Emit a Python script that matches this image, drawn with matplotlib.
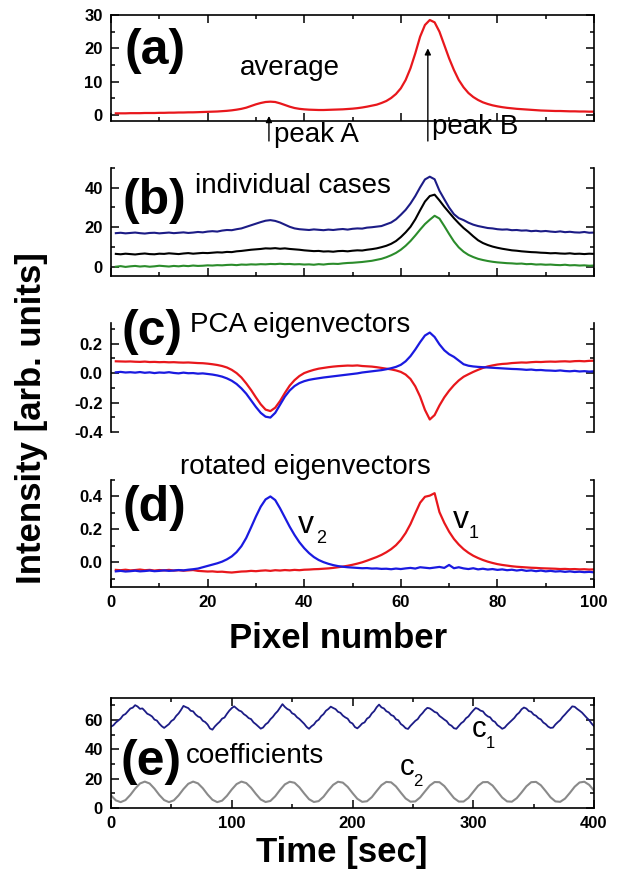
import matplotlib
matplotlib.use('Agg')
import matplotlib.pyplot as plt
from matplotlib.ticker import MultipleLocator, FormatStrFormatter, NullFormatter
import numpy as np

plt.rcParams['font.family'] = 'Liberation Sans'
plt.rcParams['font.weight'] = 'bold'
plt.rcParams['axes.unicode_minus'] = False

# ---- data ----
pixel = np.arange(1, 101)

# (a) average spectrum
average = [0.5, 0.5, 0.5, 0.55, 0.55, 0.55, 0.6, 0.6, 0.6, 0.65,
           0.65, 0.7, 0.7, 0.75, 0.75, 0.8, 0.8, 0.85, 0.9, 0.95,
           1.0, 1.05, 1.15, 1.25, 1.4, 1.6, 1.85, 2.2, 2.7, 3.2,
           3.6, 3.9, 4.0, 3.9, 3.5, 3.0, 2.5, 2.1, 1.85, 1.7,
           1.6, 1.55, 1.5, 1.5, 1.55, 1.6, 1.65, 1.7, 1.8, 1.9,
           2.05, 2.25, 2.5, 2.8, 3.1, 3.6, 4.2, 5.1, 6.3, 8.0,
           10.5, 14.0, 18.5, 23.5, 27.0, 28.5, 27.8, 25.0, 21.0, 17.0,
           13.5, 10.5, 8.3, 6.6, 5.4, 4.5, 3.8, 3.3, 2.9, 2.6,
           2.35, 2.15, 2.0, 1.85, 1.75, 1.65, 1.55, 1.45, 1.35, 1.3,
           1.25, 1.2, 1.2, 1.15, 1.1, 1.1, 1.05, 1.05, 1.0, 1.0]

# (b) individual cases
case_blue = [17.0, 17.2, 16.9, 17.1, 17.3, 17.0, 16.8, 17.1, 17.2, 16.9,
             17.1, 17.3, 17.0, 17.2, 17.4, 17.1, 17.3, 17.6, 17.4, 17.8,
             18.0, 17.8, 18.3, 18.6, 18.5, 19.0, 19.4, 20.2, 21.0, 21.8,
             22.6, 23.3, 23.6, 23.2, 22.4, 21.3, 20.2, 19.4, 19.0, 18.8,
             18.6, 18.9, 18.7, 18.5, 18.8, 18.6, 18.9, 19.1, 18.8, 19.2,
             19.4, 19.3, 19.8, 20.0, 20.3, 20.6, 21.5, 22.4, 24.0, 26.3,
             28.8, 32.0, 35.8, 40.2, 44.2, 45.6, 44.3, 38.5, 34.2, 30.0,
             26.6, 24.6, 23.6, 22.3, 21.3, 20.6, 20.1, 19.6, 19.4, 19.0,
             18.8, 18.9, 18.5, 18.6, 18.3, 18.4, 18.0, 18.2, 17.9, 18.1,
             17.8, 17.6, 17.9, 17.5, 17.7, 17.4, 17.3, 17.6, 17.2, 17.3]
case_black = [6.5, 6.3, 6.6, 6.4, 6.2, 6.5, 6.7, 6.4, 6.3, 6.6,
              6.5, 6.8, 6.6, 6.4, 6.7, 6.9, 6.6, 6.8, 7.0, 6.9,
              7.1, 7.3, 7.2, 7.5, 7.4, 7.8, 8.0, 8.3, 8.6, 8.8,
              9.0, 9.3, 9.2, 9.4, 9.1, 9.3, 9.0, 8.8, 8.6, 8.3,
              8.1, 7.9, 8.0, 7.7, 7.8, 7.6, 7.9, 8.0, 7.8, 8.1,
              8.3, 8.2, 8.6, 8.9, 9.3, 9.9, 10.6, 11.6, 13.0, 15.0,
              17.4, 20.2, 24.0, 28.6, 33.0, 35.8, 36.5, 33.6, 30.4, 27.5,
              24.6, 22.0, 19.6, 17.6, 15.4, 13.4, 12.0, 11.0, 10.2, 9.6,
              9.1, 8.7, 8.3, 8.1, 7.8, 7.6, 7.4, 7.3, 7.1, 7.0,
              6.8, 6.9, 6.7, 6.6, 6.8, 6.5, 6.6, 6.4, 6.6, 6.5]
case_green = [0.0, 0.3, -0.1, 0.2, 0.4, 0.1, 0.3, 0.0, 0.2, 0.5,
              0.3, 0.1, 0.4, 0.2, 0.5, 0.3, 0.6, 0.4, 0.5, 0.7,
              0.6, 0.8, 0.7, 0.9, 1.0, 0.8, 1.1, 1.0, 1.2, 1.1,
              1.3, 1.2, 1.4, 1.3, 1.5, 1.3, 1.4, 1.2, 1.3, 1.1,
              1.2, 1.0, 1.3, 1.1, 1.4, 1.5, 1.4, 1.7, 1.9, 2.0,
              2.2, 2.4, 2.7, 3.0, 3.5, 4.0, 4.8, 5.8, 7.0, 8.6,
              10.6, 13.0, 15.8, 18.8, 21.6, 23.8, 25.8, 24.4, 20.6, 16.6,
              12.8, 9.8, 7.6, 6.0, 4.9, 4.0, 3.4, 2.9, 2.5, 2.2,
              2.0, 1.8, 1.7, 1.5, 1.6, 1.3, 1.4, 1.1, 1.2, 1.0,
              1.1, 0.9, 0.8, 1.0, 0.7, 0.8, 0.6, 0.7, 0.5, 0.6]

# (c) PCA eigenvectors
pca_red = [0.080, 0.079, 0.078, 0.079, 0.077, 0.076, 0.078, 0.075, 0.076, 0.074,
           0.075, 0.073, 0.074, 0.072, 0.071, 0.072, 0.070, 0.068, 0.067, 0.064,
           0.060, 0.055, 0.048, 0.038, 0.022, 0.000, -0.030, -0.070, -0.115, -0.165,
           -0.212, -0.248, -0.258, -0.235, -0.190, -0.135, -0.085, -0.048, -0.020, 0.000,
           0.012, 0.022, 0.030, 0.035, 0.040, 0.044, 0.047, 0.049, 0.051, 0.050,
           0.052, 0.048, 0.046, 0.044, 0.040, 0.035, 0.030, 0.025, 0.018, 0.008,
           -0.010, -0.040, -0.090, -0.160, -0.250, -0.315, -0.285, -0.220, -0.165, -0.120,
           -0.082, -0.050, -0.025, -0.008, 0.008, 0.022, 0.035, 0.045, 0.052, 0.058,
           0.062, 0.064, 0.068, 0.070, 0.072, 0.071, 0.074, 0.076, 0.075, 0.077,
           0.078, 0.077, 0.079, 0.080, 0.078, 0.081, 0.082, 0.080, 0.083, 0.084]
pca_blue = [0.005, 0.008, 0.004, 0.006, 0.003, 0.007, 0.002, 0.005, 0.000, 0.004,
            0.002, 0.006, 0.001, -0.002, 0.003, -0.001, 0.000, -0.004, -0.002, -0.006,
            -0.010, -0.016, -0.024, -0.036, -0.052, -0.074, -0.104, -0.140, -0.185, -0.230,
            -0.270, -0.296, -0.302, -0.270, -0.215, -0.160, -0.118, -0.088, -0.068, -0.055,
            -0.046, -0.040, -0.035, -0.030, -0.026, -0.022, -0.018, -0.014, -0.010, -0.006,
            -0.002, 0.004, 0.008, 0.012, 0.016, 0.020, 0.026, 0.033, 0.042, 0.056,
            0.080, 0.115, 0.160, 0.210, 0.255, 0.275, 0.245, 0.195, 0.155, 0.128,
            0.110, 0.085, 0.060, 0.050, 0.045, 0.042, 0.040, 0.038, 0.036, 0.034,
            0.032, 0.030, 0.028, 0.027, 0.025, 0.022, 0.024, 0.020, 0.021, 0.018,
            0.017, 0.015, 0.018, 0.014, 0.012, 0.015, 0.011, 0.013, 0.010, 0.012]

# (d) rotated eigenvectors
rot_v1 = [-0.046, -0.048, -0.045, -0.049, -0.047, -0.044, -0.048, -0.046, -0.050, -0.047,
          -0.049, -0.046, -0.050, -0.048, -0.051, -0.049, -0.047, -0.052, -0.054, -0.056,
          -0.055, -0.058, -0.057, -0.060, -0.062, -0.059, -0.056, -0.055, -0.052, -0.054,
          -0.051, -0.049, -0.052, -0.048, -0.050, -0.047, -0.049, -0.046, -0.048, -0.045,
          -0.044, -0.042, -0.041, -0.039, -0.037, -0.034, -0.030, -0.026, -0.021, -0.015,
          -0.008, 0.000, 0.010, 0.021, 0.032, 0.045, 0.061, 0.080, 0.104, 0.136,
          0.178, 0.232, 0.298, 0.362, 0.398, 0.405, 0.420, 0.305, 0.240, 0.186,
          0.142, 0.108, 0.080, 0.058, 0.040, 0.026, 0.014, 0.004, -0.004, -0.011,
          -0.016, -0.020, -0.024, -0.027, -0.029, -0.031, -0.033, -0.034, -0.036, -0.037,
          -0.038, -0.039, -0.041, -0.040, -0.042, -0.041, -0.043, -0.042, -0.044, -0.043]
rot_v2 = [-0.055, -0.052, -0.056, -0.054, -0.051, -0.055, -0.053, -0.050, -0.054, -0.052,
          -0.049, -0.052, -0.050, -0.047, -0.049, -0.045, -0.042, -0.038, -0.030, -0.022,
          -0.014, -0.006, 0.004, 0.018, 0.036, 0.062, 0.098, 0.148, 0.212, 0.278,
          0.338, 0.382, 0.400, 0.378, 0.328, 0.272, 0.216, 0.166, 0.122, 0.086,
          0.056, 0.032, 0.014, 0.001, -0.009, -0.017, -0.023, -0.027, -0.030, -0.032,
          -0.034, -0.036, -0.035, -0.038, -0.037, -0.040, -0.039, -0.042, -0.038, -0.041,
          -0.037, -0.034, -0.038, -0.030, -0.033, -0.036, -0.032, -0.028, -0.034, -0.016,
          -0.036, -0.030, -0.037, -0.041, -0.036, -0.043, -0.039, -0.044, -0.041, -0.046,
          -0.043, -0.048, -0.045, -0.050, -0.046, -0.052, -0.049, -0.054, -0.050, -0.055,
          -0.052, -0.056, -0.054, -0.058, -0.055, -0.059, -0.057, -0.060, -0.058, -0.061]

# (e) coefficients vs time
time_c1 = np.arange(0, 401, 2)
coef_c1 = [55.5, 56.4, 58.3, 59.6, 61.0, 63.2, 64.1, 66.0, 67.8, 68.4,
           70.1, 69.2, 67.6, 67.9, 66.2, 64.3, 63.5, 62.4, 60.3, 59.6,
           57.5, 55.8, 54.6, 55.9, 57.2, 59.3, 60.4, 62.8, 64.5, 66.9,
           69.6, 68.8, 68.1, 66.3, 65.9, 63.8, 62.4, 61.7, 59.5, 58.6,
           56.9, 54.2, 53.4, 55.6, 57.3, 58.8, 60.9, 61.7, 64.2, 66.4,
           68.1, 69.3, 67.9, 66.5, 65.8, 64.0, 62.9, 61.3, 60.6, 58.4,
           57.1, 55.6, 54.1, 54.9, 57.0, 58.2, 60.5, 62.1, 64.3, 66.0,
           68.4, 70.8, 68.9, 67.5, 66.7, 64.6, 63.8, 61.9, 60.7, 59.0,
           57.4, 55.3, 54.0, 55.7, 56.9, 59.1, 60.2, 62.6, 64.0, 66.3,
           67.5, 69.1, 68.2, 67.4, 65.6, 64.9, 63.0, 61.8, 60.9, 58.5,
           57.6, 55.2, 54.3, 55.8, 57.6, 58.4, 60.9, 62.0, 64.5, 66.1,
           68.7, 70.5, 68.6, 67.9, 66.0, 65.2, 63.4, 62.7, 60.5, 59.8,
           57.3, 56.1, 54.4, 53.9, 56.0, 57.7, 59.4, 60.6, 63.0, 64.7,
           66.8, 68.3, 67.9, 66.8, 65.5, 64.9, 62.8, 61.6, 60.3, 59.2,
           57.0, 56.1, 54.4, 54.0, 55.9, 57.8, 59.0, 61.2, 62.4, 64.6,
           66.5, 68.2, 67.6, 66.4, 65.9, 63.8, 62.5, 61.8, 59.6, 58.7,
           56.5, 55.4, 54.0, 54.8, 56.7, 58.3, 60.0, 61.4, 63.6, 65.0,
           67.3, 68.5, 67.8, 66.1, 65.6, 63.7, 62.9, 61.2, 60.4, 58.3,
           57.2, 55.5, 54.6, 54.8, 56.9, 58.5, 59.9, 62.1, 63.8, 65.7,
           67.4, 69.3, 69.0, 67.6, 66.4, 65.1, 63.3, 61.5, 59.9, 57.6,
           55.8]
time_c2 = np.arange(0, 401, 4)
coef_c2 = [8.6, 5.2, 4.0, 5.4, 8.9, 13.2, 16.7, 18.0, 16.7, 13.2,
           8.9, 5.4, 4.0, 5.2, 8.6, 12.9, 16.5, 18.0, 16.8, 13.5,
           9.2, 5.6, 4.0, 5.0, 8.3, 12.6, 16.3, 18.0, 17.0, 13.8,
           9.6, 5.8, 4.1, 4.8, 8.0, 12.3, 16.1, 17.9, 17.2, 14.1,
           9.9, 6.0, 4.1, 4.7, 7.7, 12.0, 15.8, 17.9, 17.3, 14.4,
           10.2, 6.3, 4.2, 4.6, 7.4, 11.6, 15.6, 17.8, 17.5, 14.7,
           10.5, 6.5, 4.3, 4.5, 7.2, 11.3, 15.3, 17.7, 17.6, 15.0,
           10.9, 6.8, 4.4, 4.4, 6.9, 11.0, 15.1, 17.6, 17.7, 15.3,
           11.2, 7.1, 4.5, 4.3, 6.7, 10.6, 14.8, 17.6, 17.8, 15.5,
           11.5, 7.3, 4.5, 4.2, 6.4, 10.3, 14.5, 17.4, 17.9, 15.8,
           11.9]

RED = '#e8171c'
BLUE = '#1a1ae0'
NAVY = '#1c1c86'
GREEN = '#2b8c2b'
GRAY = '#8a8a8a'

W, H = 622, 873
fig = plt.figure(figsize=(W / 100, H / 100), dpi=100)


def fx(px):
    return px / W


def fy(py):
    return 1 - py / H


def make_axes(top, bottom):
    return fig.add_axes([fx(111), fy(bottom), fx(594) - fx(111), fy(top) - fy(bottom)])


def style(ax, ymajor, yminor, xmajor=20, xminor=10, xlabels=False, top=True, bottom=True):
    ax.xaxis.set_major_locator(MultipleLocator(xmajor))
    ax.xaxis.set_minor_locator(MultipleLocator(xminor))
    ax.yaxis.set_major_locator(MultipleLocator(ymajor))
    ax.yaxis.set_minor_locator(MultipleLocator(yminor))
    ax.tick_params(which='both', direction='in', top=top, bottom=bottom, right=True,
                   width=1.1, labelsize=12)
    ax.tick_params(which='major', length=5.5, pad=6)
    ax.tick_params(which='minor', length=3)
    if not xlabels:
        ax.xaxis.set_major_formatter(NullFormatter())
    for s in ax.spines.values():
        s.set_linewidth(1.2)
    ax.spines['top'].set_visible(top)
    ax.spines['bottom'].set_visible(bottom)


def panel_text(x, y, s, size=20, **kw):
    fig.text(fx(x), fy(y), s, fontsize=size, fontweight='normal', **kw)


# (a)
ax_a = make_axes(15, 121)
ax_a.plot(pixel, average, color=RED, lw=1.6)
ax_a.set_xlim(0, 100)
ax_a.set_ylim(-1.8, 30)
style(ax_a, 10, 5)
ax_a.annotate('', xy=(32.7, -0.3), xytext=(32.7, -7.8), annotation_clip=False,
              arrowprops=dict(arrowstyle='-|>', color='black', lw=1.0, mutation_scale=9,
                              shrinkA=0, shrinkB=0))
ax_a.annotate('', xy=(65.6, 20.0), xytext=(65.6, -7.8), annotation_clip=False,
              arrowprops=dict(arrowstyle='-|>', color='black', lw=1.0, mutation_scale=9,
                              shrinkA=0, shrinkB=0))

# (b)
ax_b = make_axes(168, 276)
ax_b.plot(pixel, case_blue, color=NAVY, lw=1.5)
ax_b.plot(pixel, case_black, color='black', lw=1.5)
ax_b.plot(pixel, case_green, color=GREEN, lw=1.5)
ax_b.set_xlim(0, 100)
ax_b.set_ylim(-4.7, 50)
style(ax_b, 20, 10, top=False)

# (c)
ax_c = make_axes(323, 432)
ax_c.plot(pixel, pca_red, color=RED, lw=1.6)
ax_c.plot(pixel, pca_blue, color=BLUE, lw=1.6)
ax_c.set_xlim(0, 100)
ax_c.set_ylim(-0.4, 0.34)
style(ax_c, 0.2, 0.1, top=False, bottom=False)
ax_c.yaxis.set_major_formatter(FormatStrFormatter('%.1f'))

# (d)
ax_d = make_axes(480, 587)
ax_d.plot(pixel, rot_v1, color=RED, lw=1.6)
ax_d.plot(pixel, rot_v2, color=BLUE, lw=1.6)
ax_d.set_xlim(0, 100)
ax_d.set_ylim(-0.15, 0.5)
style(ax_d, 0.2, 0.1, xlabels=True, top=False)
ax_d.yaxis.set_major_formatter(FormatStrFormatter('%.1f'))

# (e)
ax_e = make_axes(698, 808)
ax_e.plot(time_c1, coef_c1, color=NAVY, lw=1.3)
ax_e.plot(time_c2, coef_c2, color=GRAY, lw=1.5)
ax_e.set_xlim(0, 400)
ax_e.set_ylim(0, 75)
style(ax_e, 20, 10, xmajor=100, xminor=50, xlabels=True)

# panel letters
for lab, (x, y) in zip(['(a)', '(b)', '(c)', '(d)', '(e)'],
                       [(155, 51), (154, 201), (152, 332), (154, 508), (151, 762)]):
    fig.text(fx(x), fy(y), lab, fontsize=36, fontweight='bold', ha='center', va='center')

# annotations
panel_text(240, 75, 'average')
panel_text(274, 142, 'peak A')
panel_text(432, 134, 'peak B')
panel_text(195, 193, 'individual cases')
panel_text(190, 332, 'PCA eigenvectors')
panel_text(180, 474, 'rotated eigenvectors')
panel_text(186, 763, 'coefficients')
panel_text(298, 533, 'v', size=23)
panel_text(316, 543, '2', size=13)
panel_text(453, 528, 'v', size=23)
panel_text(469, 538, '1', size=13)
panel_text(472, 737, 'c', size=21)
panel_text(486, 748, '1', size=12)
panel_text(400, 775, 'c', size=21)
panel_text(413, 786, '2', size=12)

# axis titles
fig.text(fx(338), fy(648), 'Pixel number', fontsize=25, fontweight='bold', ha='center')
fig.text(fx(342), fy(862), 'Time [sec]', fontsize=25, fontweight='bold', ha='center')
fig.text(fx(32), fy(418), 'Intensity [arb. units]', fontsize=25, fontweight='bold',
         rotation=90, ha='center', va='center')

fig.savefig('out.png', dpi=100)
